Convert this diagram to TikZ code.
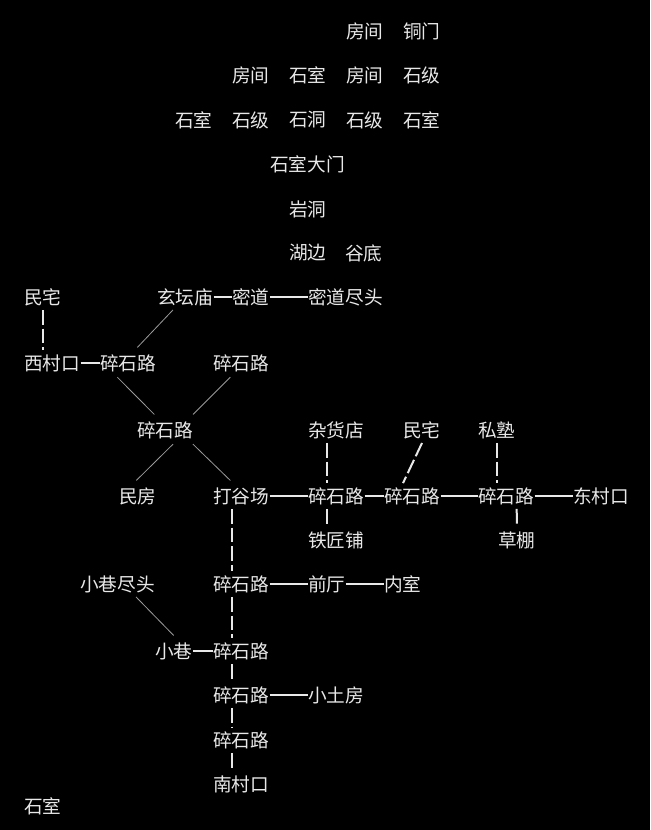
\documentclass[tikz,border=0pt]{standalone}
\usepackage{fontspec}
\setmainfont{Noto Sans CJK SC}
\usetikzlibrary{positioning}
\definecolor{roomtext}{HTML}{E8E8E8}
\definecolor{diagline}{HTML}{9A9A9A}
\tikzset{
  room/.style={anchor=west,inner sep=0pt,text=roomtext,font=\fontsize{14}{14}\selectfont},
  hpath/.style={draw=roomtext,line width=1pt},
  vpath/.style={draw=roomtext,line width=1.5pt,dash pattern=on 11pt off 3pt},
  dpath/.style={draw=diagline,line width=0.6pt}
}
\begin{document}
\begin{tikzpicture}[x=0.75pt,y=-0.75pt]
\fill[black] (0,0) rectangle (650,830);
\useasboundingbox (0,0) rectangle (650,830);

% cave area
\node[room] (fj1) at (346,31) {房间};
\node[room] (tm) at (403,31) {铜门};
\node[room] (fj2) at (232,75) {房间};
\node[room] (ss1) at (289,75) {石室};
\node[room] (fj3) at (346,75) {房间};
\node[room] (sj1) at (403,75) {石级};
\node[room] (ss2) at (175,120) {石室};
\node[room] (sj2) at (232,120) {石级};
\node[room] (sd) at (289,120) {石洞};
\node[room] (sj3) at (346,120) {石级};
\node[room] (ss3) at (403,120) {石室};
\node[room] (ssdm) at (270,164) {石室大门};
\node[room] (yd) at (289,209) {岩洞};
\node[room] (hb) at (289,253) {湖边};
\node[room] (gd) at (345,253) {谷底};

% village west
\node[room] (mz1) at (24,297) {民宅};
\node[room] (xtm) at (157,297) {玄坛庙};
\node[room] (md) at (232,297) {密道};
\node[room] (mdjt) at (308,297) {密道尽头};
\node[room] (xck) at (24,363) {西村口};
\node[room] (lu1) at (100,363) {碎石路};
\node[room] (lu2) at (213,363) {碎石路};
\node[room] (lu3) at (137,430) {碎石路};
\node[room] (mf) at (119,496) {民房};
\node[room] (dgc) at (213,496) {打谷场};

% village east
\node[room] (zhd) at (308,430) {杂货店};
\node[room] (mz2) at (403,430) {民宅};
\node[room] (ss) at (478,430) {私塾};
\node[room] (lu4) at (308,496) {碎石路};
\node[room] (lu5) at (384,496) {碎石路};
\node[room] (lu6) at (478,496) {碎石路};
\node[room] (dck) at (573,496) {东村口};
\node[room] (tjp) at (308,540) {铁匠铺};
\node[room] (cp) at (498,540) {草棚};

% village south
\node[room] (xxjt) at (80,584) {小巷尽头};
\node[room] (lu7) at (213,584) {碎石路};
\node[room] (qt) at (308,584) {前厅};
\node[room] (ns) at (384,584) {内室};
\node[room] (xx) at (155,651) {小巷};
\node[room] (lu8) at (213,651) {碎石路};
\node[room] (lu9) at (213,695) {碎石路};
\node[room] (xtf) at (308,695) {小土房};
\node[room] (lu10) at (213,740) {碎石路};
\node[room] (nck) at (213,784) {南村口};
\node[room] (ss4) at (24,806) {石室};

% horizontal exits
\draw[hpath] (xtm) -- (md);
\draw[hpath] (md) -- (mdjt);
\draw[hpath] (xck) -- (lu1);
\draw[hpath] (dgc) -- (lu4);
\draw[hpath] (lu4) -- (lu5);
\draw[hpath] (lu5) -- (lu6);
\draw[hpath] (lu6) -- (dck);
\draw[hpath] (lu7) -- (qt);
\draw[hpath] (qt) -- (ns);
\draw[hpath] (xx) -- (lu8);
\draw[hpath] (lu9) -- (xtf);

% vertical exits
\draw[vpath] ([xshift=14.25pt,yshift=-3pt]mz1.south west) -- ([xshift=14.25pt,yshift=3pt]xck.north west);
\draw[vpath] ([xshift=14.25pt,yshift=-3pt]zhd.south west) -- ([xshift=14.25pt,yshift=3pt]lu4.north west);
\draw[vpath] ([xshift=14.25pt,yshift=-3pt]mz2.south west) -- ([xshift=14.25pt,yshift=3pt]lu5.north west);
\draw[vpath] ([xshift=14.25pt,yshift=-3pt]ss.south west) -- ([xshift=14.25pt,yshift=3pt]lu6.north west);
\draw[vpath] ([xshift=14.25pt,yshift=-3pt]lu4.south west) -- ([xshift=14.25pt,yshift=3pt]tjp.north west);
\draw[vpath] ([xshift=29pt,yshift=-3pt]lu6.south west) -- ([xshift=14.25pt,yshift=3pt]cp.north west);
\draw[vpath] ([xshift=14.25pt,yshift=-3pt]dgc.south west) -- ([xshift=14.25pt,yshift=3pt]lu7.north west);
\draw[vpath] ([xshift=14.25pt,yshift=-3pt]lu7.south west) -- ([xshift=14.25pt,yshift=3pt]lu8.north west);
\draw[vpath] ([xshift=14.25pt,yshift=-3pt]lu8.south west) -- ([xshift=14.25pt,yshift=3pt]lu9.north west);
\draw[vpath] ([xshift=14.25pt,yshift=-3pt]lu9.south west) -- ([xshift=14.25pt,yshift=3pt]lu10.north west);
\draw[vpath] ([xshift=14.25pt,yshift=-3pt]lu10.south west) -- ([xshift=14.25pt,yshift=3pt]nck.north west);

% diagonal exits
\draw[dpath] ([xshift=12pt,yshift=-3pt]xtm.south west) -- ([xshift=28pt,yshift=5pt]lu1.north west);
\draw[dpath] ([xshift=13pt,yshift=-4pt]lu1.south west) -- ([xshift=13pt,yshift=5pt]lu3.north west);
\draw[dpath] ([xshift=13pt,yshift=-4pt]lu2.south west) -- ([xshift=42pt,yshift=5pt]lu3.north west);
\draw[dpath] ([xshift=27pt,yshift=-4pt]lu3.south west) -- ([xshift=13pt,yshift=5pt]mf.north west);
\draw[dpath] ([xshift=42pt,yshift=-4pt]lu3.south west) -- ([xshift=13pt,yshift=5pt]dgc.north west);
\draw[dpath] ([xshift=42pt,yshift=-3pt]xxjt.south west) -- ([xshift=14pt,yshift=5pt]xx.north west);
\end{tikzpicture}
\end{document}
